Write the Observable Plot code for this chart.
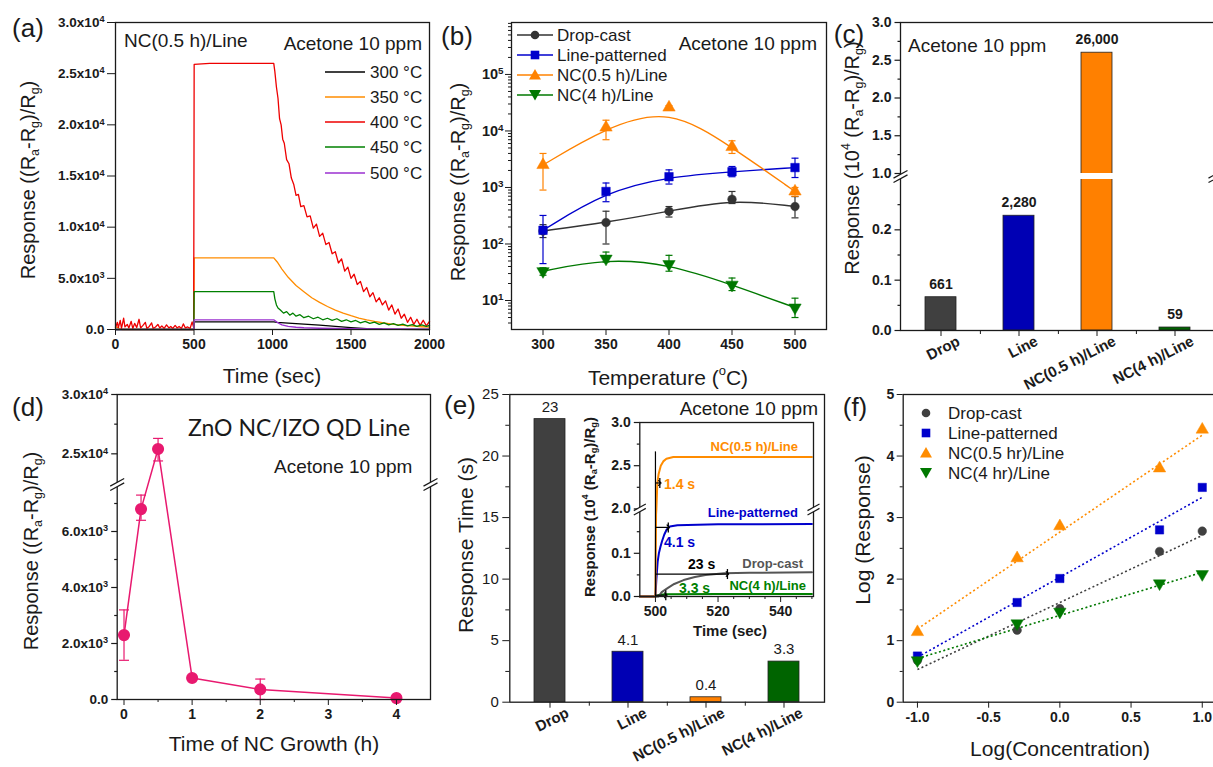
<!DOCTYPE html>
<html>
<head>
<meta charset="utf-8">
<script src="https://cdn.jsdelivr.net/npm/d3@7"></script>
<script src="https://cdn.jsdelivr.net/npm/@observablehq/plot@0.6"></script>
<style>
html,body{margin:0;padding:0;background:#fff;}
#fig{position:relative;width:1213px;height:767px;overflow:hidden;background:#fff;font-family:'Liberation Sans',Arial,Helvetica,sans-serif;color:#1a1a1a;}
.t{position:absolute;white-space:nowrap;line-height:1;}
.t sub,.t sup{font-size:62%;line-height:0;}
.t sub{vertical-align:-0.3em;}
.t sup{vertical-align:0.7em;}
</style>
</head>
<body>
<div id="fig"></div>
<script>
// ================= DATA =================
// (a) response transients, NC(0.5 h)/Line, acetone 10 ppm: [time (s), response]
const a300 = [[0,0],[499,0],[501,750],[1008,750],[1030,700],[1100,620],[1200,530],[1300,420],[1400,300],[1500,190],[1600,90],[1700,30],[1800,10],[2000,0]];
const a350 = [[0,250],[20,150],[40,0],[499,0],[501,7000],[1008,7000],[1030,6600],[1060,5900],[1100,5100],[1150,4300],[1200,3700],[1250,3100],[1300,2650],[1350,2250],[1400,1900],[1450,1600],[1500,1350],[1550,1120],[1600,940],[1650,790],[1700,660],[1750,550],[1800,460],[1850,380],[1900,320],[1950,270],[2000,230]];
const a400 = [[0,200],[12,700],[18,150],[30,900],[38,100],[52,1100],[60,250],[75,500],[85,150],[100,800],[110,100],[122,600],[135,200],[150,1000],[160,150],[175,400],[190,700],[200,100],[215,300],[230,650],[240,100],[255,250],[270,500],[282,150],[295,350],[310,100],[325,450],[340,150],[352,300],[365,100],[380,400],[392,150],[405,300],[420,100],[432,550],[445,150],[460,250],[475,100],[488,750],[498,200],
  [501,25900],[600,26000],[800,26000],[1008,26000],
  [1015,25200],[1025,23700],[1035,22600],[1045,20600],[1055,20000],[1065,18600],[1075,18200],[1090,16600],[1105,16200],[1120,14800],[1135,14200],[1150,13100],[1165,13200],[1180,12000],
  [1200,12100],[1220,11000],[1240,11100],[1260,9900],[1280,10300],[1300,9100],[1320,9400],[1340,8300],[1360,8500],[1380,7400],[1400,7600],[1420,6500],[1440,6900],[1460,5700],[1480,6100],[1500,5000],[1520,5400],[1540,4400],[1560,4700],[1580,3700],[1600,4100],[1620,3200],[1640,3600],[1660,2700],[1680,3100],[1700,2400],[1720,2800],[1740,1900],[1760,2400],[1780,1500],[1800,2000],[1820,1100],[1840,1500],[1860,700],[1880,1200],[1900,500],[1920,1000],[1940,400],[1960,900],[1980,350],[2000,800]];
const a450 = [[0,0],[499,0],[501,3700],[1008,3700],[1015,3000],[1025,2400],[1035,2100],[1050,1900],[1070,1600],[1090,1750],[1110,1400],[1130,1600],[1150,1300],[1175,1450],[1200,1150],[1230,1300],[1260,1050],[1290,1200],[1320,950],[1350,1100],[1380,900],[1410,1050],[1440,800],[1470,950],[1500,750],[1530,880],[1560,650],[1590,800],[1620,600],[1650,720],[1680,500],[1710,650],[1740,450],[1770,580],[1800,400],[1830,520],[1860,350],[1890,480],[1920,300],[1950,450],[1980,300],[2000,400]];
const a500 = [[0,0],[499,0],[501,950],[1008,950],[1030,700],[1060,450],[1100,300],[1150,220],[1200,170],[1300,120],[1500,80],[1700,50],[2000,40]];
const aXTicks = [0,500,1000,1500,2000];
const aYTicks = [0,5000,10000,15000,20000,25000,30000];
const aYLabels = ["0.0","5.0x10³","1.0x10⁴","1.5x10⁴","2.0x10⁴","2.5x10⁴","3.0x10⁴"];
const aLegend = ["300 °C","350 °C","400 °C","450 °C","500 °C"];

// (b) response vs temperature
const bTemp = [300,350,400,450,500];
const bDrop = [170,240,380,620,460],      bDropLo = [130,100,300,520,290],     bDropHi = [220,380,460,850,690];
const bLine = [175,850,1550,1900,2250],   bLineLo = [45,560,1150,1550,1500],   bLineHi = [320,1200,2050,2350,3300];
const bNC05 = [2500,11500,26000,5200,850],bNC05Lo = [900,7000,24000,4000,700], bNC05Hi = [4000,15500,28000,6700,1000];
const bNC4  = [33,55,44,19,7.5],          bNC4Lo  = [28,48,33,15,5],           bNC4Hi  = [38,72,63,25,11];
const bYTicks = [10,100,1000,10000,100000];
const bYLabels = ["10¹","10²","10³","10⁴","10⁵"];
const seriesNames = ["Drop-cast","Line-patterned","NC(0.5 h)/Line","NC(4 h)/Line"];

// (c) response at 400 °C (x10^4)
const cCats = ["Drop","Line","NC(0.5 h)/Line","NC(4 h)/Line"];
const cResp = [0.0661,0.228,2.6,0.0059];
const cLabels = ["661","2,280","26,000","59"];
const cYTicks = [0,0.1,0.2,1.0,1.5,2.0,2.5,3.0];
const cYMinor = [0.05,0.15,0.25,1.25,1.75,2.25,2.75];
const cBreak = [0.3,1.0];

// (d) response vs NC growth time
const dGrowth = [0,0.25,0.5,1,2,4];
const dResp   = [2300,6800,25400,770,360,50];
const dLo     = [1400,6400,24400,720,0,30];
const dHi     = [3200,7300,26300,820,730,70];
const dYTicks = [0,2000,4000,6000,25000,30000];
const dYLabels = ["0.0","2.0x10³","4.0x10³","6.0x10³","2.5x10⁴","3.0x10⁴"];
const dYMinor = [1000,3000,5000,7000,27500];
const dBreak = [7600,22600];

// (e) response time (s)
const eTimes = [23,4.1,0.4,3.3];
const eLabels = ["23","4.1","0.4","3.3"];
// (e) inset transients: [time (s), response x10^4]
const iNC05 = [[495,0],[500,0],[500.1,0.1],[500.2,0.19],[500.3,2.0],[500.6,2.3],[501,2.4],[501.7,2.5],[502.5,2.55],[503.5,2.58],[505.7,2.6],[550,2.6]];
const iLine = [[495,0],[500,0],[500.3,0.04],[500.7,0.08],[501.1,0.1],[501.6,0.115],[502.1,0.128],[502.8,0.143],[503.6,0.155],[504.6,0.162],[507,0.165],[520,0.167],[550,0.168]];
const iDrop = [[495,0],[500,0],[501,0],[502,0.01],[504,0.02],[506,0.029],[509,0.038],[512.6,0.045],[516,0.05],[522,0.054],[530,0.055],[550,0.056]];
const iNC4  = [[495,0],[500,0],[500.5,0.002],[501.5,0.004],[503.3,0.005],[520,0.0055],[550,0.0055]];
const iRT    = [1.4,4.1,23,3.3];          // response times marked in inset (s)
const iLevel = [2.3,0.16,0.052,0.003];    // response level where each arrow is drawn
const iStart = 500, iStartTop = 2.66;
const iYTicks = [0,0.1,2.0,2.5,3.0];
const iYMinor = [0.05,0.15,2.25,2.75];
const iBreak = [0.2,2.0];

// (f) log response vs log concentration
const fLogC = [-1,-0.3,0,0.7,1];
const fDrop = [0.68,1.17,1.52,2.45,2.78];
const fLine = [0.75,1.62,2.01,2.80,3.49];
const fNC05 = [1.14,2.34,2.86,3.80,4.43];
const fNC4  = [0.68,1.28,1.47,1.93,2.08];
const fFitX = [-1,1];
const fFitDrop = [0.53,2.71], fFitLine = [0.73,3.33], fFitNC05 = [1.19,4.34], fFitNC4 = [0.71,2.11];
const fLegend = ["Drop-cast","Line-patterned","NC(0.5 hr)/Line","NC(4 hr)/Line"];

// ================= HELPERS =================
const FF = "'Liberation Sans', Arial, Helvetica, sans-serif";
const fig = document.getElementById("fig");
const AX = "#1a1a1a";
const baseStyle = {fontFamily: FF, fontSize: "14px", fontWeight: "bold", color: AX, background: "transparent", overflow: "visible"};
const SUPMAP = {"⁰": "0", "¹": "1", "²": "2", "³": "3", "⁴": "4", "⁵": "5"};
function place(svg, left, top) {
  svg.style.position = "absolute"; svg.style.left = left + "px"; svg.style.top = top + "px";
  svg.style.maxWidth = "none";
  // render unicode superscript exponents of tick labels as real superscripts
  svg.querySelectorAll("text").forEach(t => {
    if (t.children.length) return;
    const m = (t.textContent || "").match(/^(.*?)([⁰¹²³⁴⁵]+)$/);
    if (!m) return;
    t.textContent = m[1];
    const ts = document.createElementNS("http://www.w3.org/2000/svg", "tspan");
    ts.setAttribute("dy", "-0.5em");
    ts.setAttribute("font-size", "68%");
    ts.textContent = [...m[2]].map(c => SUPMAP[c]).join("");
    t.appendChild(ts);
  });
  fig.appendChild(svg);
}
function txt(content, x, y, o = {}) {
  const d = document.createElement("div");
  d.className = "t"; d.innerHTML = content;
  d.style.left = x + "px"; d.style.top = y + "px";
  d.style.fontSize = (o.size || 18) + "px";
  if (o.weight) d.style.fontWeight = o.weight;
  if (o.color) d.style.color = o.color;
  if (o.family) d.style.fontFamily = o.family;
  const a = o.anchor || "middle";
  const tx = a === "start" ? "0" : a === "end" ? "-100%" : "-50%";
  d.style.transform = o.rot ? "translate(-50%,-50%) rotate(-90deg)" : `translate(${tx},-50%)`;
  fig.appendChild(d);
  return d;
}
// broken axis: piecewise-linear transform (value -> position along axis, ends preserved)
function brokenAxis(stops, px) {
  const d0 = stops[0], dN = stops[stops.length - 1], p0 = px[0], pN = px[px.length - 1];
  return d3.scaleLinear().domain(stops).range(px.map(p => d0 + (p - p0) / (pN - p0) * (dN - d0)));
}
const S3 = Math.sqrt(3);
const triDown = {draw(ctx, size) { const y = -Math.sqrt(size / (S3 * 3)); ctx.moveTo(0, -2 * y); ctx.lineTo(-S3 * y, y); ctx.lineTo(S3 * y, y); ctx.closePath(); }};
const hCap = {draw(ctx, size) { const r = Math.sqrt(size / Math.PI); ctx.moveTo(-r, 0); ctx.lineTo(r, 0); }};
const vCap = {draw(ctx, size) { const r = Math.sqrt(size / Math.PI); ctx.moveTo(0, -r); ctx.lineTo(0, r); }};
const tickL = {draw(ctx, size) { const r = Math.sqrt(size / Math.PI); ctx.moveTo(-r, 0); ctx.lineTo(0, 0); }};
const brkFill = {draw(ctx, size) { const r = Math.sqrt(size / Math.PI), k = 0.55 * r, g = 2.2; ctx.moveTo(-r, k - g); ctx.lineTo(r, -k - g); ctx.lineTo(r, -k + g); ctx.lineTo(-r, k + g); ctx.closePath(); }};
const brkLines = {draw(ctx, size) { const r = Math.sqrt(size / Math.PI), k = 0.55 * r, g = 2.2; ctx.moveTo(-r, k - g); ctx.lineTo(r, -k - g); ctx.moveTo(-r, k + g); ctx.lineTo(r, -k + g); }};
function breakMarks(brk, r = 7) {
  const mid = [(brk[0] + brk[1]) / 2];
  const out = [];
  for (const fa of ["left", "right"]) {
    out.push(Plot.dot(mid, {y: d => d, frameAnchor: fa, symbol: brkFill, r, fill: "white", stroke: "none"}));
    out.push(Plot.dot(mid, {y: d => d, frameAnchor: fa, symbol: brkLines, r, fill: "none", stroke: AX, strokeWidth: 1.2}));
  }
  return out;
}
// y ticks drawn as ordinary marks so that they follow the (broken) y scale
function yTickMarks(ticks, labels, len, fontSize = 14, fontWeight = "bold") {
  const out = [Plot.dot(ticks, {y: d => d, frameAnchor: "left", symbol: tickL, r: len, stroke: AX, fill: "none", strokeWidth: 1.2})];
  if (labels) out.push(Plot.text(ticks, {y: d => d, frameAnchor: "left", text: (d, i) => labels[i], textAnchor: "end", dx: -(len + 3), fontSize, fontWeight, fill: AX}));
  return out;
}
function errBars(rows, xk, color, capR, sw = 1.2) {
  return [
    Plot.ruleX(rows, {x: xk, y1: "lo", y2: "hi", stroke: color, strokeWidth: sw}),
    Plot.dot(rows, {x: xk, y: "lo", symbol: hCap, r: capR, stroke: color, fill: "none", strokeWidth: sw}),
    Plot.dot(rows, {x: xk, y: "hi", symbol: hCap, r: capR, stroke: color, fill: "none", strokeWidth: sw})
  ];
}
function symSVG(kind, color, withLine) {
  const w = withLine ? 36 : 16, c = w / 2;
  let s;
  if (kind === "circle") s = `<circle cx="${c}" cy="8" r="4.3" fill="${color}"/>`;
  else if (kind === "square") s = `<rect x="${c-4.3}" y="3.7" width="8.6" height="8.6" fill="${color}"/>`;
  else if (kind === "tri") s = `<path d="M${c},2 L${c+6},12.5 L${c-6},12.5Z" fill="${color}"/>`;
  else s = `<path d="M${c},13.5 L${c+6},3 L${c-6},3Z" fill="${color}"/>`;
  const l = withLine ? `<line x1="0" y1="8" x2="${w}" y2="8" stroke="${color}" stroke-width="1.5"/>` : "";
  return `<svg width="${w}" height="16" style="display:block">${l}${s}</svg>`;
}
const C = {drop: "#333333", line: "#0000cc", nc05: "#ff8200", nc4: "#007800"};
const CB = {drop: "#404040", line: "#0000b4", nc05: "#ff8000", nc4: "#006400"};
const RESP = "Response ((R<sub>a</sub>-R<sub>g</sub>)/R<sub>g</sub>)";
const RESP4 = "Response (10<sup>4</sup> (R<sub>a</sub>-R<sub>g</sub>)/R<sub>g</sub>)";
const xLabelMarks = (cats) => Plot.text(cats, {x: d => d, text: d => d, frameAnchor: "bottom", rotate: -27, textAnchor: "end", dx: 20, dy: 14, fontSize: 15, fontWeight: "bold", fill: AX});

// ================= (a) =================
const aColors = ["#000000", "#ff8c00", "#ee0000", "#008000", "#9b30d0"];
const aSeries = [a300, a350, a400, a450, a500];
const aYMap = new Map(aYTicks.map((t, i) => [t, aYLabels[i]]));
place(Plot.plot({
  width: 390, height: 350, marginLeft: 60, marginRight: 16, marginTop: 22, marginBottom: 21,
  style: baseStyle,
  x: {domain: [0, 2000]}, y: {domain: [0, 30000]},
  marks: [
    ...aSeries.map((s, i) => Plot.line(s, {x: d => d[0], y: d => d[1], stroke: aColors[i], strokeWidth: 1.3})),
    Plot.frame({stroke: AX, strokeWidth: 1.3}),
    Plot.axisX({ticks: aXTicks, tickSize: 6, tickPadding: 4, tickFormat: d => String(d), label: null, fontSize: 14}),
    Plot.axisY({ticks: aYTicks, tickSize: 8, tickPadding: 3, tickFormat: d => aYMap.get(d), label: null, fontSize: 13.5})
  ]
}), 55, 0);

// ================= (b) =================
const mkB = (v, lo, hi) => bTemp.map((t, i) => ({t, v: v[i], lo: lo[i], hi: hi[i]}));
const bSeries = [
  {rows: mkB(bDrop, bDropLo, bDropHi), color: C.drop, symbol: "circle", r: 4.3},
  {rows: mkB(bLine, bLineLo, bLineHi), color: C.line, symbol: "square", r: 4.8},
  {rows: mkB(bNC05, bNC05Lo, bNC05Hi), color: C.nc05, symbol: "triangle", r: 4.6},
  {rows: mkB(bNC4, bNC4Lo, bNC4Hi), color: C.nc4, symbol: triDown, r: 4.6}
];
const bYMap = new Map(bYTicks.map((t, i) => [t, bYLabels[i]]));
const bMinor = [];
for (const dec of [1, 10, 100, 1000, 10000, 100000]) for (let m = 2; m <= 9; m++) { const v = m * dec; if (v > 3.07 && v < 8.3e5) bMinor.push(v); }
place(Plot.plot({
  width: 385, height: 350, marginLeft: 61, marginRight: 9, marginTop: 22, marginBottom: 21,
  style: baseStyle,
  x: {domain: [275, 525]}, y: {type: "log", domain: [3.07, 8.3e5]},
  marks: [
    ...bSeries.flatMap(s => errBars(s.rows, "t", s.color, 3.5)),
    ...bSeries.map(s => Plot.line(s.rows, {x: "t", y: "v", stroke: s.color, strokeWidth: 1.4, curve: "basis"})),
    ...bSeries.map(s => Plot.dot(s.rows, {x: "t", y: "v", symbol: s.symbol, r: s.r, fill: s.color, stroke: s.color, strokeWidth: 0.5})),
    Plot.frame({stroke: AX, strokeWidth: 1.3}),
    Plot.axisX({ticks: bTemp, tickSize: 6, tickPadding: 4, tickFormat: d => String(d), label: null, fontSize: 14}),
    Plot.axisY({ticks: bYTicks, tickSize: 6, tickPadding: 2, tickFormat: d => bYMap.get(d), label: null, fontSize: 14.5}),
    Plot.axisY({ticks: bMinor, tickSize: 3, tickFormat: () => "", label: null})
  ]
}), 450, 0);

// ================= (c) =================
const cRows = cCats.map((c, i) => ({cat: c, v: cResp[i], lab: cLabels[i], color: [CB.drop, CB.line, CB.nc05, CB.nc4][i]}));
const cGap = [{cat: cCats[2], lo: cBreak[0], hi: cBreak[1]}];
const cT = brokenAxis([0, cBreak[0], cBreak[1], 3.0], [0, 151, 157, 308]);
place(Plot.plot({
  width: 380, height: 400, marginLeft: 60, marginRight: 5, marginTop: 22, marginBottom: 70,
  style: baseStyle,
  color: {type: "identity"},
  x: {domain: cCats, paddingInner: 0.6, paddingOuter: 0.3},
  y: {domain: [0, 3], transform: cT, axis: null},
  marks: [
    Plot.barY(cRows, {x: "cat", y: "v", fill: "color", stroke: "#222", strokeWidth: 0.8}),
    Plot.barY(cGap, {x: "cat", y1: "lo", y2: "hi", fill: "white", insetLeft: -2, insetRight: -2}),
    Plot.text(cRows, {x: "cat", y: "v", text: "lab", dy: -13, fontSize: 14, fontWeight: "bold", fill: AX}),
    Plot.frame({stroke: AX, strokeWidth: 1.3}),
    Plot.axisX({ticks: cCats, tickSize: 6, tickFormat: () => "", label: null}),
    Plot.axisX({ticks: cCats.slice(0, 3), tickSize: 4, tickFormat: () => "", label: null, dx: 39.4}),
    xLabelMarks(cCats),
    ...yTickMarks(cYTicks, cYTicks.map(d => d.toFixed(1)), 6, 14),
    ...yTickMarks(cYMinor, null, 3),
    ...breakMarks(cBreak, 7)
  ]
}), 840, 0);

// ================= (d) =================
const dRows = dGrowth.map((g, i) => ({g, v: dResp[i], lo: dLo[i], hi: dHi[i]}));
const PINK = "#e8196f";
const dT = brokenAxis([0, dBreak[0], dBreak[1], 30000], [0, 212.8, 217.2, 305]);
place(Plot.plot({
  width: 385, height: 360, marginLeft: 61.7, marginRight: 10, marginTop: 14, marginBottom: 41,
  style: baseStyle,
  x: {domain: [-0.1, 4.5]},
  y: {domain: [0, 30000], transform: dT, axis: null},
  marks: [
    Plot.line(dRows, {x: "g", y: "v", stroke: PINK, strokeWidth: 1.5}),
    ...errBars(dRows, "g", PINK, 5),
    Plot.dot(dRows, {x: "g", y: "v", r: 5.3, fill: PINK, stroke: PINK}),
    Plot.frame({stroke: AX, strokeWidth: 1.3}),
    Plot.axisX({ticks: [0, 1, 2, 3, 4], tickSize: 6, tickPadding: 4, tickFormat: d => String(d), label: null, fontSize: 14}),
    Plot.axisX({ticks: [0.5, 1.5, 2.5, 3.5], tickSize: 3, tickFormat: () => "", label: null}),
    ...yTickMarks(dYTicks, dYLabels, 6, 13.5),
    ...yTickMarks(dYMinor, null, 3),
    ...breakMarks(dBreak, 7)
  ]
}), 55, 380);

// ================= (e) main =================
const eRows = cCats.map((c, i) => ({cat: c, v: eTimes[i], lab: eLabels[i], color: [CB.drop, CB.line, CB.nc05, CB.nc4][i]}));
place(Plot.plot({
  width: 375, height: 387, marginLeft: 54.3, marginRight: 6, marginTop: 14, marginBottom: 65.3,
  style: baseStyle,
  color: {type: "identity"},
  x: {domain: cCats, paddingInner: 0.6, paddingOuter: 0.3},
  y: {domain: [0, 25]},
  marks: [
    Plot.barY(eRows, {x: "cat", y: "v", fill: "color", stroke: "#222", strokeWidth: 0.8}),
    Plot.text(eRows, {x: "cat", y: "v", text: "lab", dy: -12, fontSize: 15, fontWeight: "normal", fill: AX}),
    Plot.frame({stroke: AX, strokeWidth: 1.3}),
    Plot.axisX({ticks: cCats, tickSize: 6, tickFormat: () => "", label: null}),
    Plot.axisX({ticks: cCats.slice(0, 3), tickSize: 4, tickFormat: () => "", label: null, dx: 39.3}),
    xLabelMarks(cCats),
    Plot.axisY({ticks: [0, 5, 10, 15, 20, 25], tickSize: 7, tickPadding: 4, tickFormat: d => String(d), label: null, fontSize: 15, fontWeight: "normal"}),
    Plot.axisY({ticks: [2.5, 7.5, 12.5, 17.5, 22.5], tickSize: 4, tickFormat: () => "", label: null})
  ]
}), 455, 380);

// ================= (e) inset =================
const insetSeries = [
  {pts: iNC4, color: "#008000"}, {pts: iDrop, color: "#555555"}, {pts: iLine, color: "#0000cc"}, {pts: iNC05, color: "#ff8c00"}
];
const rtRows = iRT.map((rt, i) => ({rt, lvl: iLevel[i]}));
const iT = brokenAxis([0, iBreak[0], iBreak[1], 3.0], [0, 86.4, 87.6, 174]);
place(Plot.plot({
  width: 230, height: 240, marginLeft: 49.3, marginRight: 7, marginTop: 12, marginBottom: 54,
  style: baseStyle,
  x: {domain: [495, 550.5]},
  y: {domain: [0, 3], transform: iT, axis: null},
  marks: [
    ...insetSeries.map(s => Plot.line(s.pts, {x: d => d[0], y: d => d[1], stroke: s.color, strokeWidth: 2})),
    Plot.ruleX([iStart], {x: d => d, y1: 0, y2: iStartTop, stroke: "#000", strokeWidth: 1.2}),
    Plot.link(rtRows, {x1: iStart, x2: d => iStart + d.rt, y1: "lvl", y2: "lvl", stroke: "#000", strokeWidth: 1.2, markerEnd: "arrow"}),
    Plot.dot(rtRows, {x: d => iStart + d.rt, y: "lvl", symbol: vCap, r: 5, stroke: "#000", fill: "none", strokeWidth: 1.3}),
    Plot.frame({stroke: AX, strokeWidth: 1.3}),
    Plot.axisX({ticks: [500, 520, 540], tickSize: 6, tickPadding: 4, tickFormat: d => String(d), label: null, fontSize: 14}),
    Plot.axisX({ticks: [505, 510, 515, 525, 530, 535, 545, 550], tickSize: 3, tickFormat: () => "", label: null}),
    ...yTickMarks(iYTicks, iYTicks.map(d => d.toFixed(1)), 6, 14),
    ...yTickMarks(iYMinor, null, 3),
    ...breakMarks(iBreak, 6)
  ]
}), 590, 410);

// ================= (f) =================
const mkF = (v) => fLogC.map((x, i) => ({x, v: v[i]}));
const fSeries = [
  {rows: mkF(fDrop), fit: fFitDrop, color: "#404040", symbol: "circle", r: 4.3},
  {rows: mkF(fLine), fit: fFitLine, color: "#0000cc", symbol: "square", r: 4.7},
  {rows: mkF(fNC05), fit: fFitNC05, color: "#ff8c00", symbol: "triangle", r: 4.6},
  {rows: mkF(fNC4), fit: fFitNC4, color: "#007800", symbol: triDown, r: 4.6}
];
place(Plot.plot({
  width: 375, height: 387, marginLeft: 52.7, marginRight: 9, marginTop: 14, marginBottom: 65.3,
  style: baseStyle,
  x: {domain: [-1.1, 1.1]}, y: {domain: [0, 5]},
  marks: [
    ...fSeries.map(s => Plot.link([s.fit], {x1: fFitX[0], x2: fFitX[1], y1: d => d[0], y2: d => d[1], stroke: s.color, strokeWidth: 1.6, strokeDasharray: "2,2.5"})),
    ...fSeries.map(s => Plot.dot(s.rows, {x: "x", y: "v", symbol: s.symbol, r: s.r, fill: s.color, stroke: s.color, strokeWidth: 0.5})),
    Plot.frame({stroke: AX, strokeWidth: 1.3}),
    Plot.axisX({ticks: [-1, -0.5, 0, 0.5, 1], tickSize: 6, tickPadding: 4, tickFormat: d => d.toFixed(1), label: null, fontSize: 14}),
    Plot.axisY({ticks: [0, 1, 2, 3, 4, 5], tickSize: 6, tickPadding: 3, tickFormat: d => String(d), label: null, fontSize: 14}),
    Plot.axisY({ticks: [0.5, 1.5, 2.5, 3.5, 4.5], tickSize: 3, tickFormat: () => "", label: null})
  ]
}), 850, 380);

// ================= TEXT: titles, legends, annotations =================
[["(a)", 28, 28], ["(b)", 457, 36], ["(c)", 849, 34], ["(d)", 28, 407], ["(e)", 460, 405], ["(f)", 855, 407]]
  .forEach(([s, x, y]) => txt(s, x, y, {size: 26}));
txt(RESP, 28, 180, {size: 20, rot: true});
txt("Time (sec)", 272, 375, {size: 21});
txt(RESP, 458, 182, {size: 20, rot: true});
txt("Temperature (<sup>o</sup>C)", 668, 377, {size: 21});
txt(RESP4, 852, 158, {size: 20, rot: true});
txt(RESP, 31, 551, {size: 20, rot: true});
txt("Time of NC Growth (h)", 274, 743, {size: 21});
txt("Response Time (s)", 465, 545, {size: 21, rot: true});
txt(RESP4, 589, 507, {size: 15, rot: true, weight: "bold"});
txt("Time (sec)", 730, 630, {size: 15, weight: "bold"});
txt("Log (Response)", 862, 530, {size: 21, rot: true});
txt("Log(Concentration)", 1060, 748, {size: 21});
txt("NC(0.5 h)/Line", 124, 40, {size: 19, anchor: "start"});
txt("Acetone 10 ppm", 422, 43, {size: 19, anchor: "end"});
txt("Acetone 10 ppm", 817, 43, {size: 19, anchor: "end"});
txt("Acetone 10 ppm", 908, 45, {size: 19, anchor: "start"});
txt("ZnO NC/IZO QD Line", 188, 427, {size: 23, anchor: "start", family: "Lato, 'Open Sans', sans-serif"});
txt("Acetone 10 ppm", 274, 466, {size: 19, anchor: "start"});
txt("Acetone 10 ppm", 818, 408, {size: 19, anchor: "end"});
const aLegY = [71.7, 97.3, 122.3, 147.3, 172.7];
aLegend.forEach((s, i) => {
  txt(`<svg width="40" height="4" style="display:block"><line x1="0" y1="2" x2="40" y2="2" stroke="${aColors[i]}" stroke-width="1.5"/></svg>`, 325, aLegY[i], {anchor: "start"});
  txt(s, 370, aLegY[i], {size: 17, anchor: "start"});
});
const bLegY = [35, 55, 75, 95];
const kinds = ["circle", "square", "tri", "down"];
seriesNames.forEach((s, i) => {
  txt(symSVG(kinds[i], [C.drop, C.line, C.nc05, C.nc4][i], true), 517, bLegY[i], {anchor: "start"});
  txt(s, 557, bLegY[i], {size: 17, anchor: "start"});
});
const fLegY = [413, 433, 453, 473];
fLegend.forEach((s, i) => {
  txt(symSVG(kinds[i], fSeries[i].color, false), 918, fLegY[i], {anchor: "start"});
  txt(s, 948, fLegY[i], {size: 17, anchor: "start"});
});
txt("NC(0.5 h)/Line", 798, 446, {size: 13, weight: "bold", color: "#ff8c00", anchor: "end"});
txt("1.4 s", 664, 484, {size: 14, weight: "bold", color: "#ff8c00", anchor: "start"});
txt("Line-patterned", 798, 512, {size: 13, weight: "bold", color: "#0000cc", anchor: "end"});
txt("4.1 s", 664, 542, {size: 14, weight: "bold", color: "#0000cc", anchor: "start"});
txt("23 s", 688, 564, {size: 14, weight: "bold", color: "#000", anchor: "start"});
txt("Drop-cast", 803, 563, {size: 13, weight: "bold", color: "#555", anchor: "end"});
txt("3.3 s", 679, 588, {size: 14, weight: "bold", color: "#008000", anchor: "start"});
txt("NC(4 h)/Line", 806, 585, {size: 13, weight: "bold", color: "#008000", anchor: "end"});
</script>
</body>
</html>
